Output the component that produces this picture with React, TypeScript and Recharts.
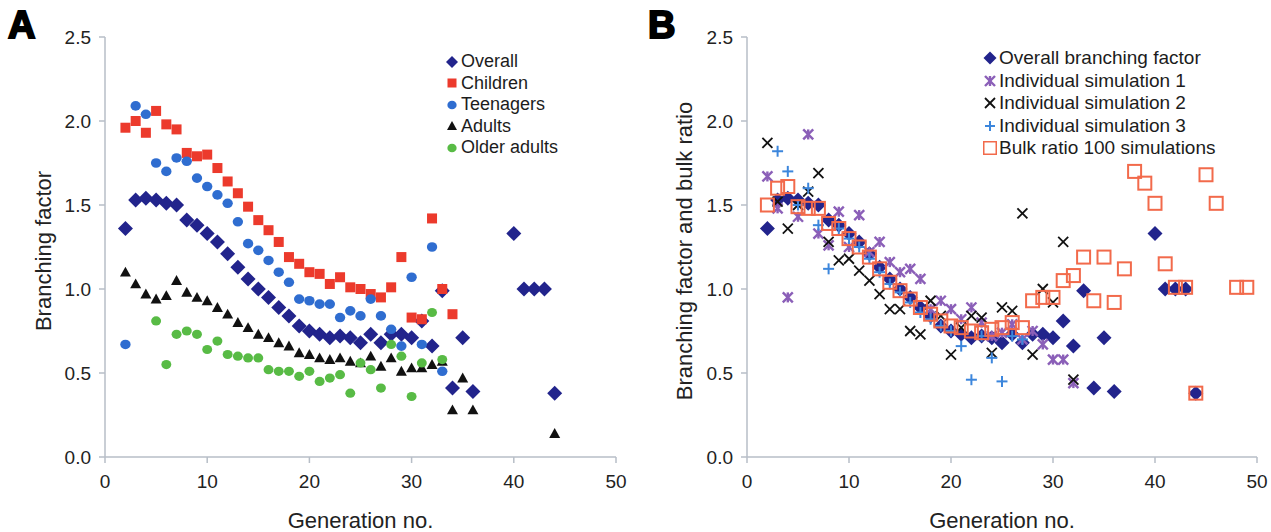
import React from 'react';
import { ScatterChart, Scatter, XAxis, YAxis, Legend } from 'recharts';

const FONT = '"Liberation Sans", Arial, Helvetica, sans-serif';

// axis ticks
const xTicks = [0, 10, 20, 30, 40, 50];
const yTicks = [0, 0.5, 1, 1.5, 2, 2.5];

// panel A: branching factor by age group
const overallGen = [2, 3, 4, 5, 6, 7, 8, 9, 10, 11, 12, 13, 14, 15, 16, 17, 18, 19, 20, 21, 22, 23, 24, 25, 26, 27, 28, 29, 30, 31, 32, 33, 34, 35, 36, 40, 41, 42, 43, 44];
const overallVal = [1.36, 1.53, 1.54, 1.53, 1.51, 1.5, 1.41, 1.38, 1.33, 1.28, 1.21, 1.13, 1.06, 1.0, 0.95, 0.89, 0.84, 0.78, 0.75, 0.73, 0.71, 0.72, 0.71, 0.68, 0.73, 0.68, 0.73, 0.73, 0.71, 0.81, 0.66, 0.99, 0.41, 0.71, 0.39, 1.33, 1.0, 1.0, 1.0, 0.38];

const childrenGen = [2, 3, 4, 5, 6, 7, 8, 9, 10, 11, 12, 13, 14, 15, 16, 17, 18, 19, 20, 21, 22, 23, 24, 25, 26, 27, 28, 29, 30, 31, 32, 33, 34];
const childrenVal = [1.96, 2.0, 1.93, 2.06, 1.98, 1.95, 1.81, 1.79, 1.8, 1.72, 1.64, 1.57, 1.49, 1.41, 1.35, 1.28, 1.19, 1.15, 1.1, 1.09, 1.03, 1.07, 1.01, 1.0, 0.97, 0.95, 1.01, 1.19, 0.83, 0.82, 1.42, 1.0, 0.85];

const teenGen = [2, 3, 4, 5, 6, 7, 8, 9, 10, 11, 12, 13, 14, 15, 16, 17, 18, 19, 20, 21, 22, 23, 24, 25, 26, 27, 28, 29, 30, 31, 32, 33];
const teenVal = [0.67, 2.09, 2.04, 1.75, 1.7, 1.78, 1.76, 1.66, 1.61, 1.56, 1.51, 1.4, 1.27, 1.23, 1.17, 1.1, 1.04, 0.94, 0.93, 0.91, 0.91, 0.83, 0.87, 0.84, 0.94, 0.84, 0.76, 0.66, 1.07, 0.67, 1.25, 0.51];

const adultGen = [2, 3, 4, 5, 6, 7, 8, 9, 10, 11, 12, 13, 14, 15, 16, 17, 18, 19, 20, 21, 22, 23, 24, 25, 26, 27, 28, 29, 30, 31, 32, 33, 34, 35, 36, 44];
const adultVal = [1.1, 1.03, 0.97, 0.94, 0.96, 1.05, 0.98, 0.95, 0.93, 0.89, 0.85, 0.8, 0.77, 0.73, 0.71, 0.68, 0.66, 0.62, 0.61, 0.59, 0.58, 0.59, 0.57, 0.56, 0.6, 0.54, 0.59, 0.51, 0.53, 0.53, 0.55, 0.57, 0.28, 0.47, 0.28, 0.14];

const olderGen = [5, 6, 7, 8, 9, 10, 11, 12, 13, 14, 15, 16, 17, 18, 19, 20, 21, 22, 23, 24, 25, 26, 27, 28, 29, 30, 31, 32, 33];
const olderVal = [0.81, 0.55, 0.73, 0.75, 0.73, 0.64, 0.69, 0.61, 0.6, 0.59, 0.59, 0.52, 0.51, 0.51, 0.48, 0.51, 0.45, 0.47, 0.49, 0.38, 0.56, 0.52, 0.41, 0.67, 0.6, 0.36, 0.56, 0.86, 0.58];

// panel B: simulations
const sim1Gen = [2, 3, 4, 5, 6, 7, 8, 9, 10, 11, 12, 13, 14, 15, 16, 17, 18, 19, 20, 21, 22, 23, 24, 25, 26, 27, 28, 29, 30, 31, 32];
const sim1Val = [1.67, 1.48, 0.95, 1.43, 1.92, 1.33, 1.26, 1.46, 1.25, 1.44, 1.22, 1.28, 1.16, 1.1, 1.12, 1.06, 0.88, 0.93, 0.88, 0.82, 0.89, 0.8, 0.72, 0.74, 0.79, 0.7, 0.75, 0.67, 0.58, 0.58, 0.44];

const sim2Gen = [2, 3, 4, 5, 6, 7, 8, 9, 10, 11, 12, 13, 14, 15, 16, 17, 18, 19, 20, 21, 22, 23, 24, 25, 26, 27, 28, 29, 30, 31, 32];
const sim2Val = [1.87, 1.52, 1.36, 1.5, 1.58, 1.69, 1.28, 1.17, 1.18, 1.11, 1.05, 0.97, 0.88, 0.88, 0.75, 0.73, 0.93, 0.84, 0.61, 0.77, 0.84, 0.83, 0.62, 0.89, 0.87, 1.45, 0.61, 1.0, 0.92, 1.28, 0.46];

const sim3Gen = [3, 4, 5, 6, 7, 8, 9, 10, 11, 12, 13, 14, 15, 16, 17, 18, 19, 20, 21, 22, 23, 24, 25, 26, 27];
const sim3Val = [1.82, 1.7, 1.5, 1.6, 1.38, 1.12, 1.36, 1.3, 1.25, 1.18, 1.1, 1.03, 0.98, 0.92, 0.86, 0.82, 0.78, 0.75, 0.66, 0.46, 0.72, 0.59, 0.45, 0.72, 0.7];

const bulkGen = [2, 3, 4, 5, 6, 7, 8, 9, 10, 11, 12, 13, 14, 15, 16, 17, 18, 19, 20, 21, 22, 23, 24, 25, 26, 27, 28, 29, 30, 31, 32, 33, 34, 35, 36, 37, 38, 39, 40, 41, 42, 43, 44, 45, 46, 48, 49];
const bulkVal = [1.5, 1.6, 1.61, 1.49, 1.48, 1.48, 1.39, 1.36, 1.3, 1.25, 1.19, 1.12, 1.04, 0.99, 0.94, 0.89, 0.85, 0.81, 0.78, 0.77, 0.75, 0.74, 0.76, 0.77, 0.8, 0.77, 0.93, 0.95, 0.95, 1.05, 1.08, 1.19, 0.93, 1.19, 0.92, 1.12, 1.7, 1.63, 1.51, 1.15, 1.01, 1.01, 0.38, 1.68, 1.51, 1.01, 1.01];

type Kind = 'diamond' | 'square' | 'circle' | 'triangle' | 'x' | 'asterisk' | 'plus' | 'box';

interface SeriesDef {
  name: string;
  gens: number[];
  vals: number[];
  kind: Kind;
  color: string;
  size: number;
  legendSize: number;
}

const toPoints = (gens: number[], vals: number[]) => gens.map((g, i) => ({ x: g, y: vals[i] }));

function Marker({ kind, cx, cy, color, s }: { kind: Kind; cx: number; cy: number; color: string; s: number }) {
  switch (kind) {
    case 'diamond':
      return <polygon points={`${cx},${cy - s} ${cx + s},${cy} ${cx},${cy + s} ${cx - s},${cy}`} fill={color} />;
    case 'square':
      return <rect x={cx - s} y={cy - s} width={2 * s} height={2 * s} fill={color} />;
    case 'circle':
      return <ellipse cx={cx} cy={cy} rx={s * 1.08} ry={s} fill={color} />;
    case 'triangle':
      return <polygon points={`${cx},${cy - s} ${cx + s},${cy + s * 0.8} ${cx - s},${cy + s * 0.8}`} fill={color} />;
    case 'x':
      return (
        <g stroke={color} strokeWidth={1.8}>
          <line x1={cx - s} y1={cy - s} x2={cx + s} y2={cy + s} />
          <line x1={cx - s} y1={cy + s} x2={cx + s} y2={cy - s} />
        </g>
      );
    case 'asterisk':
      return (
        <g stroke={color} strokeWidth={2.4}>
          <line x1={cx - s} y1={cy - s} x2={cx + s} y2={cy + s} />
          <line x1={cx - s} y1={cy + s} x2={cx + s} y2={cy - s} />
          <line x1={cx} y1={cy - s} x2={cx} y2={cy + s} />
        </g>
      );
    case 'plus':
      return (
        <g stroke={color} strokeWidth={2}>
          <line x1={cx - s} y1={cy} x2={cx + s} y2={cy} />
          <line x1={cx} y1={cy - s} x2={cx} y2={cy + s} />
        </g>
      );
    case 'box':
      return <rect x={cx - s} y={cy - s} width={2 * s} height={2 * s} fill="none" stroke={color} strokeWidth={2} />;
    default:
      return null;
  }
}

const NAVY = '#22248c';

const seriesA: SeriesDef[] = [
  { name: 'Overall', gens: overallGen, vals: overallVal, kind: 'diamond', color: NAVY, size: 7.5, legendSize: 6 },
  { name: 'Children', gens: childrenGen, vals: childrenVal, kind: 'square', color: '#ec3a2c', size: 5, legendSize: 4.5 },
  { name: 'Teenagers', gens: teenGen, vals: teenVal, kind: 'circle', color: '#2f6dd0', size: 4.8, legendSize: 4.3 },
  { name: 'Adults', gens: adultGen, vals: adultVal, kind: 'triangle', color: '#111111', size: 5.5, legendSize: 5 },
  { name: 'Older adults', gens: olderGen, vals: olderVal, kind: 'circle', color: '#58bb45', size: 4.6, legendSize: 4.3 },
];

const seriesB: SeriesDef[] = [
  { name: 'Overall branching factor', gens: overallGen, vals: overallVal, kind: 'diamond', color: NAVY, size: 7.5, legendSize: 6.5 },
  { name: 'Individual simulation 1', gens: sim1Gen, vals: sim1Val, kind: 'asterisk', color: '#8b5fb8', size: 5, legendSize: 5 },
  { name: 'Individual simulation 2', gens: sim2Gen, vals: sim2Val, kind: 'x', color: '#111111', size: 5, legendSize: 5 },
  { name: 'Individual simulation 3', gens: sim3Gen, vals: sim3Val, kind: 'plus', color: '#3c86dc', size: 5.5, legendSize: 5 },
  { name: 'Bulk ratio 100 simulations', gens: bulkGen, vals: bulkVal, kind: 'box', color: '#f26a4b', size: 6.5, legendSize: 6.5 },
];

interface PanelProps {
  left: number;
  width: number;
  plotLeft: number;
  plotRight: number;
  letter: string;
  yTitle: string;
  yTitleX: number;
  series: SeriesDef[];
  legendLeft: number;
  legendTop: number;
  legendRow: number;
  legendFont: number;
}

const PLOT_TOP = 37;
const PLOT_BOTTOM = 457;
const H = 532;
const AXIS = '#b7bec7';

function Panel(p: PanelProps) {
  const midX = (p.plotLeft + p.plotRight) / 2;
  const midY = 251;
  const legendContent = () => (
    <div style={{ fontFamily: FONT, fontSize: p.legendFont, color: '#1c1c1c' }}>
      {p.series.map((s) => (
        <div key={s.name} style={{ display: 'flex', alignItems: 'center', height: p.legendRow, whiteSpace: 'nowrap' }}>
          <svg width={14} height={14} style={{ marginRight: 2 }}>
            <Marker kind={s.kind} cx={7} cy={7} color={s.color} s={s.legendSize} />
          </svg>
          <span>{s.name}</span>
        </div>
      ))}
    </div>
  );
  return (
    <div style={{ position: 'absolute', left: p.left, top: 0, width: p.width, height: H }}>
      <ScatterChart
        width={p.width}
        height={H}
        margin={{ top: PLOT_TOP, right: p.width - p.plotRight, bottom: H - PLOT_BOTTOM - 40, left: p.plotLeft - 50 }}
      >
        <XAxis
          type="number"
          dataKey="x"
          domain={[0, 50]}
          ticks={xTicks}
          height={40}
          stroke={AXIS}
          strokeWidth={1.5}
          tickSize={6}
          tickMargin={12}
          tick={{ fill: '#222', fontSize: 19, fontFamily: FONT }}
          label={() => (
            <text x={midX} y={528} textAnchor="middle" fill="#222" fontSize={22} fontFamily={FONT}>
              Generation no.
            </text>
          )}
        />
        <YAxis
          type="number"
          dataKey="y"
          domain={[0, 2.5]}
          ticks={yTicks}
          width={50}
          stroke={AXIS}
          strokeWidth={1.5}
          tickSize={6}
          tickMargin={8}
          tickFormatter={(v: number) => v.toFixed(1)}
          tick={{ fill: '#222', fontSize: 19, fontFamily: FONT }}
          label={() => (
            <text
              x={p.yTitleX}
              y={midY}
              transform={`rotate(-90 ${p.yTitleX} ${midY})`}
              textAnchor="middle"
              dominantBaseline="central"
              fill="#222"
              fontSize={22}
              fontFamily={FONT}
            >
              {p.yTitle}
            </text>
          )}
        />
        <Legend
          layout="vertical"
          align="center"
          verticalAlign="middle"
          content={legendContent}
          wrapperStyle={{ left: p.legendLeft, top: p.legendTop, width: 'auto' }}
        />
        {p.series.map((s) => (
          <Scatter
            key={s.name}
            name={s.name}
            data={toPoints(s.gens, s.vals)}
            isAnimationActive={false}
            shape={(props: any) => <Marker kind={s.kind} cx={props.cx} cy={props.cy} color={s.color} s={s.size} />}
          />
        ))}
      </ScatterChart>
      <div
        style={{
          position: 'absolute',
          left: 8,
          top: 6,
          fontFamily: FONT,
          fontWeight: 900,
          fontSize: 38,
          lineHeight: '38px',
          color: '#000',
          WebkitTextStroke: '2px #000',
        }}
      >
        {p.letter}
      </div>
    </div>
  );
}

export default function App() {
  return (
    <div style={{ position: 'absolute', left: 0, top: 0, width: 1271, height: H, background: '#fff' }}>
      <Panel
        left={0}
        width={640}
        plotLeft={105}
        plotRight={616}
        letter="A"
        yTitle="Branching factor"
        yTitleX={43}
        series={seriesA}
        legendLeft={445}
        legendTop={51}
        legendRow={21.5}
        legendFont={18}
      />
      <Panel
        left={640}
        width={631}
        plotLeft={107}
        plotRight={617}
        letter="B"
        yTitle="Branching factor and bulk ratio"
        yTitleX={44}
        series={seriesB}
        legendLeft={343}
        legendTop={47}
        legendRow={22.5}
        legendFont={19}
      />
    </div>
  );
}
